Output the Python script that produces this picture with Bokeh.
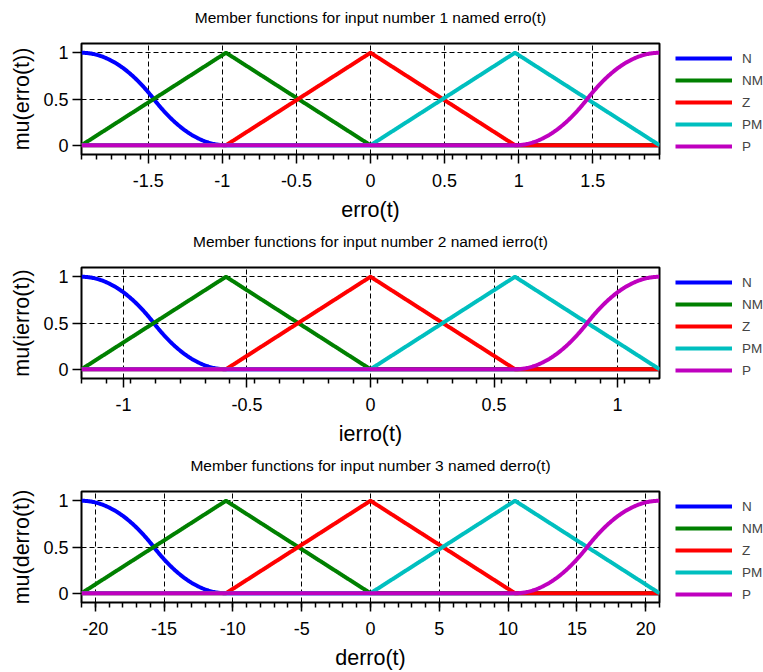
import numpy as np
from bokeh.plotting import figure
from bokeh.models import Range1d, FixedTicker, Legend, LegendItem, ColumnDataSource, Title
from bokeh.layouts import column, row
from bokeh.embed import file_html
from bokeh.resources import INLINE

# ---------------- data ----------------
input_names = ["erro(t)", "ierro(t)", "derro(t)"]
input_ranges = [[-1.95, 1.95], [-1.17, 1.17], [-21.0, 21.0]]

mf_names = ["N", "NM", "Z", "PM", "P"]
mf_types = ["zmf", "trimf", "trimf", "trimf", "smf"]
mf_colors = ["#0000ff", "#008000", "#ff0000", "#00bfbf", "#bf00bf"]

mf_params_erro = [[-1.95, -0.975], [-1.95, -0.975, 0.0], [-0.975, 0.0, 0.975],
                  [0.0, 0.975, 1.95], [0.975, 1.95]]
mf_params_ierro = [[-1.17, -0.585], [-1.17, -0.585, 0.0], [-0.585, 0.0, 0.585],
                   [0.0, 0.585, 1.17], [0.585, 1.17]]
mf_params_derro = [[-21.0, -10.5], [-21.0, -10.5, 0.0], [-10.5, 0.0, 10.5],
                   [0.0, 10.5, 21.0], [10.5, 21.0]]
mf_params = [mf_params_erro, mf_params_ierro, mf_params_derro]

x_ticks_erro = [-1.5, -1, -0.5, 0, 0.5, 1, 1.5]
x_tick_labels_erro = ["-1.5", "-1", "-0.5", "0", "0.5", "1", "1.5"]
x_ticks_ierro = [-1, -0.5, 0, 0.5, 1]
x_tick_labels_ierro = ["-1", "-0.5", "0", "0.5", "1"]
x_ticks_derro = [-20, -15, -10, -5, 0, 5, 10, 15, 20]
x_tick_labels_derro = ["-20", "-15", "-10", "-5", "0", "5", "10", "15", "20"]
x_ticks = [x_ticks_erro, x_ticks_ierro, x_ticks_derro]
x_tick_labels = [x_tick_labels_erro, x_tick_labels_ierro, x_tick_labels_derro]
x_minor_steps = [0.1, 0.1, 1.0]

y_ticks = [0, 0.5, 1]
y_tick_labels = ["0", "0.5", "1"]

FONT = "Liberation Sans"


# ---------------- membership functions ----------------
def smf(x, a, b):
    m = (a + b) / 2.0
    y = np.zeros_like(x)
    r1 = (x > a) & (x <= m)
    r2 = (x > m) & (x < b)
    y[r1] = 2 * ((x[r1] - a) / (b - a)) ** 2
    y[r2] = 1 - 2 * ((x[r2] - b) / (b - a)) ** 2
    y[x >= b] = 1.0
    return y


def zmf(x, a, b):
    return 1.0 - smf(x, a, b)


def trimf(x, a, b, c):
    return np.maximum(np.minimum((x - a) / (b - a), (c - x) / (c - b)), 0.0)


def evaluate(kind, x, p):
    if kind == "zmf":
        return zmf(x, *p)
    if kind == "smf":
        return smf(x, *p)
    return trimf(x, *p)


rows = []
for i in range(3):
    lo, hi = input_ranges[i]
    p = figure(width=661, height=224, output_backend="svg", toolbar_location=None,
               x_range=Range1d(lo, hi), y_range=Range1d(-0.1, 1.1),
               min_border_left=81, min_border_right=2,
               min_border_top=43, min_border_bottom=70)
    # spacer between title and frame, then the title itself
    p.add_layout(Title(text=" ", text_font_size="1px", text_font=FONT), "above")
    p.add_layout(Title(text="Member functions for input number %d named %s" % (i + 1, input_names[i]),
                       align="center", text_font=FONT, text_font_size="15.5px",
                       text_font_style="normal", text_color="black"), "above")

    p.outline_line_color = "black"
    p.outline_line_width = 2
    p.outline_line_alpha = 1.0
    p.background_fill_color = "white"
    p.border_fill_color = "white"

    # x axis
    minor = list(np.round(np.arange(lo, hi + 1e-9, x_minor_steps[i]), 6))
    p.xaxis.ticker = FixedTicker(ticks=x_ticks[i], minor_ticks=minor)
    p.xaxis.major_label_overrides = {t: l for t, l in zip(x_ticks[i], x_tick_labels[i])}
    p.xaxis.axis_label = input_names[i]
    # y axis
    p.yaxis.ticker = FixedTicker(ticks=y_ticks, minor_ticks=[])
    p.yaxis.major_label_overrides = {t: l for t, l in zip(y_ticks, y_tick_labels)}
    p.yaxis.axis_label = "mu(%s)" % input_names[i]

    for ax in (p.xaxis[0], p.yaxis[0]):
        ax.axis_line_color = None
        ax.major_tick_in = 0
        ax.major_tick_out = 9
        ax.minor_tick_in = 0
        ax.minor_tick_out = 5
        ax.major_tick_line_color = "black"
        ax.major_tick_line_width = 1.5
        ax.minor_tick_line_color = "black"
        ax.minor_tick_line_width = 1.5
        ax.major_label_text_font = FONT
        ax.major_label_text_font_size = "18px"
        ax.major_label_text_color = "black"
        ax.axis_label_text_font = FONT
        ax.axis_label_text_font_size = "21.5px"
        ax.axis_label_text_font_style = "normal"
        ax.axis_label_text_color = "black"
    p.xaxis.major_label_standoff = 10
    p.xaxis.axis_label_standoff = 8
    p.yaxis.major_label_standoff = 4
    p.yaxis.axis_label_standoff = 6

    p.grid.grid_line_color = "black"
    p.grid.grid_line_dash = "5 3"
    p.grid.grid_line_width = 1
    p.grid.grid_line_alpha = 1.0

    for k in range(5):
        xs = np.linspace(lo, hi, 601)
        xs = np.unique(np.concatenate([xs, np.array(mf_params[i][k], dtype=float)]))
        ys = evaluate(mf_types[k], xs, mf_params[i][k])
        src = ColumnDataSource(dict(x=xs, y=ys))
        p.line("x", "y", source=src, line_color=mf_colors[k], line_width=4)

    # legend panel to the right of the axes (its frame is aligned with the axes frame)
    lg = figure(width=102, height=224, output_backend="svg", toolbar_location=None,
                x_axis_type=None, y_axis_type=None,
                min_border_left=0, min_border_right=0, min_border_top=0, min_border_bottom=0)
    lg.outline_line_color = None
    lg.grid.visible = False
    lg.background_fill_color = "white"
    lg.border_fill_color = "white"
    items = []
    for k in range(5):
        proxy = lg.line(x=[np.nan], y=[np.nan], line_color=mf_colors[k], line_width=4)
        items.append(LegendItem(label=mf_names[k], renderers=[proxy]))
    legend = Legend(items=items, location=(14, 0), orientation="vertical",
                    padding=0, margin=0, spacing=6,
                    glyph_width=57, glyph_height=16, label_height=16,
                    label_standoff=10, label_text_font=FONT,
                    label_text_font_size="13.5px",
                    border_line_color=None, background_fill_alpha=0)
    lg.add_layout(legend)
    rows.append(row(p, lg, spacing=0))

layout = column(*rows, spacing=0)
open("out.html", "w").write(file_html(layout, INLINE))
